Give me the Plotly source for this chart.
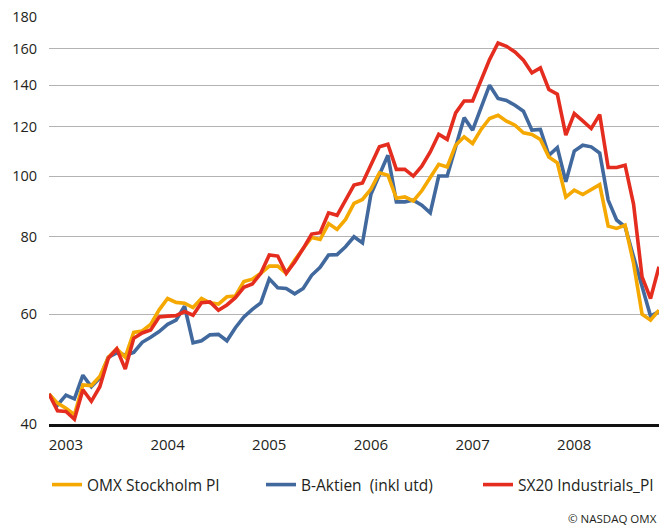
import math
import pandas as pd
import plotly.graph_objects as go

# Monthly observations, Dec 2002 .. Dec 2008
months = list(pd.date_range("2002-12-01", periods=73, freq="MS").strftime("%Y-%m"))

omx_stockholm_pi = [
    44.7, 43.2, 42.4, 41.4, 46.2, 46.1, 47.7, 51.2, 52.8, 51.2, 56.1, 56.4,
    57.8, 61.0, 63.6, 62.7, 62.5, 61.5, 63.6, 62.6, 62.3, 64.0, 64.2, 67.7,
    68.3, 69.8, 71.7, 71.7, 69.8, 73.3, 76.5, 79.7, 79.1, 83.9, 82.1, 85.2,
    90.4, 91.7, 95.3, 101.2, 100.3, 92.1, 92.6, 91.2, 94.7, 99.7, 104.4, 103.4,
    112.1, 115.6, 112.8, 118.8, 123.7, 125.2, 122.5, 120.7, 117.3, 116.6, 114.5, 107.3,
    105.0, 92.5, 94.9, 93.4, 95.1, 96.9, 83.1, 82.4, 83.4, 72.4, 60.0, 58.7,
    60.9,
]
b_aktien = [
    44.7, 42.9, 44.5, 43.9, 47.9, 45.9, 47.4, 51.2, 52.0, 51.6, 52.1, 54.1,
    55.1, 56.3, 57.8, 58.7, 61.8, 54.0, 54.4, 55.6, 55.7, 54.4, 57.1, 59.4,
    61.1, 62.6, 68.4, 66.2, 66.0, 64.7, 66.0, 69.3, 71.4, 74.7, 74.8, 77.0,
    79.9, 78.1, 93.5, 100.3, 108.0, 90.9, 90.9, 91.5, 89.8, 87.3, 100.0, 100.0,
    111.7, 124.1, 118.5, 128.3, 139.9, 133.2, 132.2, 129.9, 127.1, 118.5, 118.8, 108.0,
    111.1, 97.9, 109.7, 112.1, 111.4, 108.9, 91.5, 85.0, 82.9, 74.2, 66.4, 59.6,
    60.6,
]
sx20_industrials_pi = [
    44.7, 42.0, 41.9, 40.7, 45.4, 43.5, 45.9, 51.0, 52.8, 49.0, 54.9, 56.0,
    56.6, 59.4, 59.6, 59.7, 60.6, 59.8, 62.6, 62.8, 60.9, 62.1, 63.8, 66.3,
    67.1, 69.8, 74.7, 74.4, 69.8, 72.8, 76.5, 80.7, 81.1, 87.3, 86.5, 91.7,
    96.7, 97.5, 104.5, 111.4, 112.5, 102.5, 102.5, 100.0, 103.7, 109.3, 116.7, 114.5,
    126.3, 132.0, 132.0, 142.8, 153.8, 163.5, 161.5, 158.2, 153.4, 146.4, 149.1, 137.7,
    135.3, 116.3, 126.0, 122.6, 119.2, 125.5, 103.2, 103.2, 104.1, 90.1, 68.9, 63.6,
    71.5,
]

series_names = ["OMX Stockholm PI", "B-Aktien \u00a0(inkl utd)", "SX20 Industrials_PI"]
series_colors = ["#F5A800", "#41699E", "#E42D1F"]

year_labels = ["2003", "2004", "2005", "2006", "2007", "2008"]
year_tick_months = ["2003-02", "2004-02", "2005-02", "2006-02", "2007-02", "2008-02"]
y_ticks = [40, 60, 80, 100, 120, 140, 160, 180]

FONT = "Open Sans"
TXT = "#231f20"

fig = go.Figure()
# draw order: blue, orange, red (red on top)
fig.add_trace(go.Scatter(x=months, y=b_aktien, name=series_names[1], mode="lines",
                         line=dict(color=series_colors[1], width=3.6), legend="legend2"))
fig.add_trace(go.Scatter(x=months, y=omx_stockholm_pi, name=series_names[0], mode="lines",
                         line=dict(color=series_colors[0], width=3.6), legend="legend"))
fig.add_trace(go.Scatter(x=months, y=sx20_industrials_pi, name=series_names[2], mode="lines",
                         line=dict(color=series_colors[2], width=3.6), legend="legend3"))

leg_y = 1 - 485 / 526
leg_common = dict(xref="container", yref="container", yanchor="middle", xanchor="left",
                  orientation="h", bgcolor="rgba(0,0,0,0)", borderwidth=0,
                  font=dict(family=FONT, size=15.5, color=TXT))
fig.update_layout(
    width=663, height=526,
    margin=dict(l=49, r=4, t=17, b=102),
    paper_bgcolor="white", plot_bgcolor="white",
    font=dict(family=FONT, size=14, color=TXT),
    showlegend=True,
    legend=dict(x=47 / 663, y=leg_y, **leg_common),
    legend2=dict(x=261 / 663, y=leg_y, **leg_common),
    legend3=dict(x=478 / 663, y=leg_y, **leg_common),
    xaxis=dict(type="category", range=[0, len(months) - 1], showgrid=False,
               showline=True, linecolor="#111111", linewidth=2.5,
               ticks="", tickvals=year_tick_months, ticktext=year_labels,
               tickfont=dict(family=FONT, size=15, color=TXT), ticklabelstandoff=5,
               zeroline=False, fixedrange=True),
    yaxis=dict(type="log", range=[math.log10(40), math.log10(180)],
               tickvals=y_ticks, ticktext=[str(v) for v in y_ticks],
               showgrid=True, gridcolor="#b3b3b3", gridwidth=1.3,
               ticks="", showline=False, zeroline=False,
               tickfont=dict(family=FONT, size=14.5, color=TXT), ticklabelstandoff=11),
    annotations=[dict(text="© NASDAQ OMX", xref="paper", yref="paper", x=1.0,
                      y=(424 - 518.5) / 407, xanchor="right", yanchor="middle",
                      showarrow=False, font=dict(family=FONT, size=11.5, color=TXT))],
)

fig.write_html(
    "out.html",
    config={"displayModeBar": False},
    post_script="document.body.style.margin='0';document.body.style.overflow='hidden';",
)
